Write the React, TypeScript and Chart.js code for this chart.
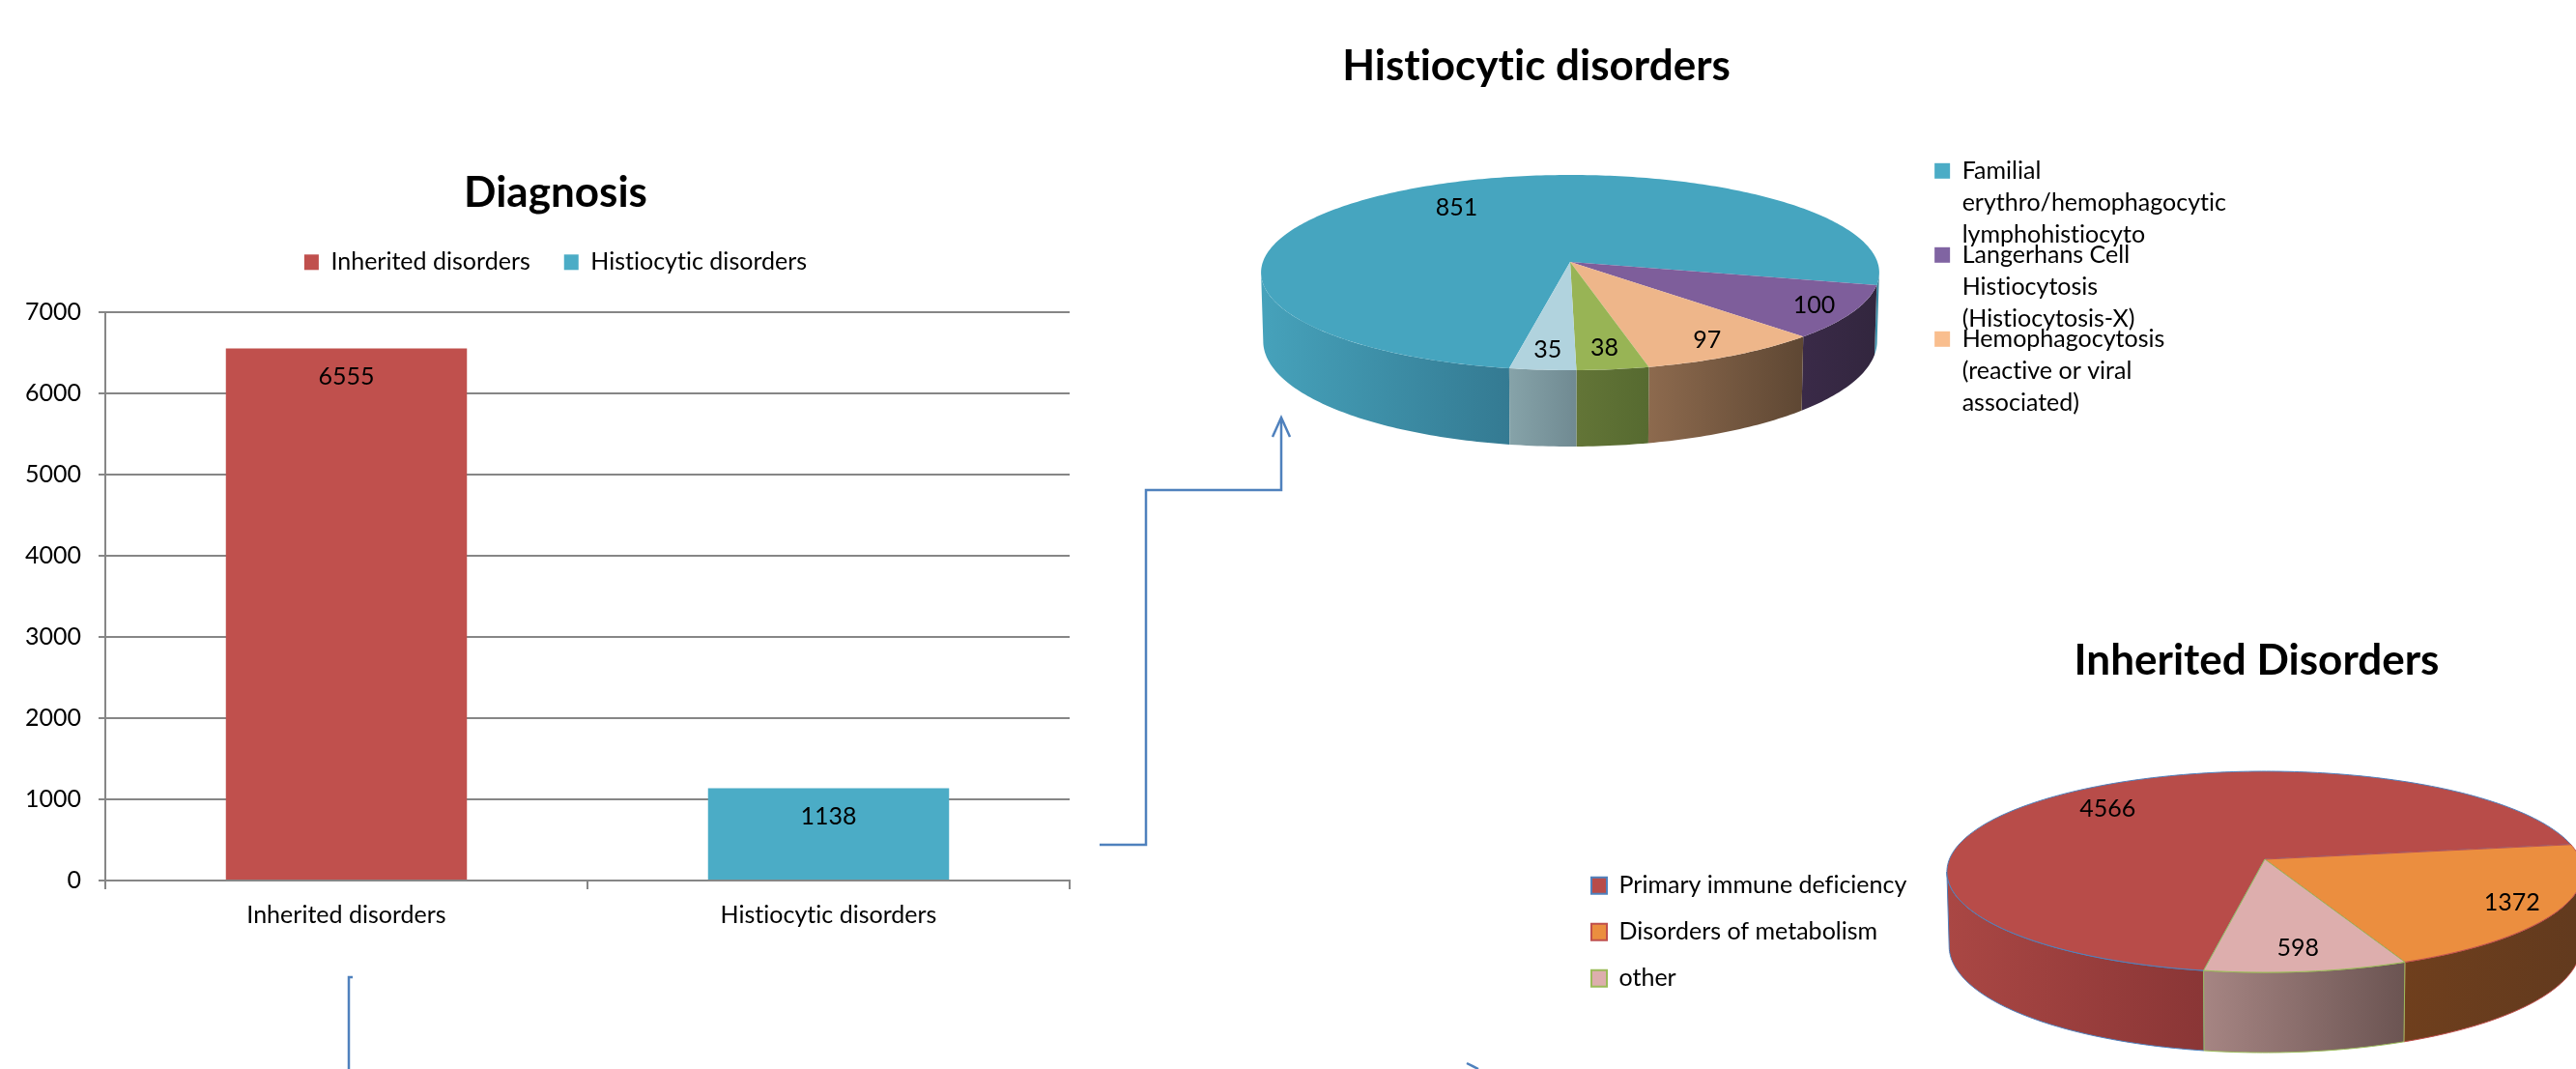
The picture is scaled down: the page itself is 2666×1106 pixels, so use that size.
import React, { useEffect, useRef } from "react";
import { Chart, registerables, ArcElement, PieController } from "chart.js";

Chart.register(...registerables);

const FONT = "Lato, 'Open Sans', sans-serif";

const diagnosisLabels = ["Inherited disorders", "Histiocytic disorders"];
const diagnosisValues = [6555, 1138];
const diagnosisColors = ["#C0504D", "#4BACC6"];

const histiocyticLabels = [
  ["Familial", "erythro/hemophagocytic", "lymphohistiocyto"],
  ["Langerhans Cell", "Histiocytosis", "(Histiocytosis-X)"],
  ["Hemophagocytosis", "(reactive or viral", "associated)"],
];
const histiocyticValues = [851, 100, 97, 38, 35];
const histiocyticTop = ["#46A5BF", "#7E5E9B", "#EEB68A", "#98B455", "#B1D3DE"];
const histiocyticLegendColors = ["#4BACC6", "#8064A2", "#F9BE8E"];

const inheritedLabels = ["Primary immune deficiency", "Disorders of metabolism", "other"];
const inheritedValues = [4566, 1372, 598];
const inheritedTop = ["#B84C49", "#EB8E3F", "#DDAEAD"];
const inheritedBorders = ["#4F81BD", "#C0504D", "#9BBB59"];

type Pie3D = {
  cx: number; cy: number; rx: number; ry: number; p: number;
  d0: number; d1: number; shrink: number;
  walls: [string, string][]; labelR: number[]; borders?: string[];
};

const proj = (c: Pie3D, a: number, r = 1, wall = false) => {
  const u = Math.cos(a) * r, v = Math.sin(a) * r;
  const w = 1 - c.p * v;
  const s = wall ? c.shrink : 1;
  return {
    x: c.cx + (c.rx * u * s) / w,
    y: c.cy + (c.ry * v) / w + (wall ? c.d0 + c.d1 * v : 0),
  };
};

class Arc3DElement extends ArcElement {
  static id = "arc3d";
  draw(ctx: CanvasRenderingContext2D) {
    const c = (this as any).$pie as Pie3D;
    const { startAngle, endAngle } = this as any;
    const idx = (this as any).$idx as number;
    const o = (this as any).options;
    const steps = Math.max(8, Math.ceil((endAngle - startAngle) * 60));
    ctx.save();
    ctx.beginPath();
    const a0 = proj(c, startAngle, 0);
    ctx.moveTo(a0.x, a0.y);
    for (let i = 0; i <= steps; i++) {
      const p = proj(c, startAngle + ((endAngle - startAngle) * i) / steps);
      ctx.lineTo(p.x, p.y);
    }
    ctx.closePath();
    ctx.fillStyle = o.backgroundColor;
    ctx.fill();
    if (c.borders) {
      ctx.strokeStyle = c.borders[idx];
      ctx.lineWidth = 1;
      ctx.stroke();
    }
    ctx.restore();
  }
}

class Pie3DController extends PieController {
  static id = "pie3d";
  static defaults = { ...PieController.defaults, dataElementType: "arc3d" };
  draw() {
    const c = (this.chart.options.plugins as any).pie3d as Pie3D;
    (this as any)._cachedMeta.data.forEach((el: any, i: number) => {
      el.$pie = c;
      el.$idx = i;
    });
    super.draw();
  }
}
Chart.register(Arc3DElement as any, Pie3DController as any);
Chart.register({
  id: "textTweaks",
  beforeLayout(chart: Chart) { (chart.ctx as any).letterSpacing = "0.01px"; },
  afterLayout(chart: Chart) {
    // the overlapping legend rows need a negative padding, which the legend's own clip would cut off
    const legend = (chart as any).legend;
    if (legend) legend.draw = function () { if (this.options.display) this._draw(); };
  },
  beforeDraw(chart: Chart) { (chart.ctx as any).letterSpacing = "0.01px"; },
} as any);

const pie3dPlugin = {
  id: "pie3d",
  beforeDatasetsDraw(chart: Chart) {
    const c = (chart.options.plugins as any).pie3d as Pie3D;
    if (!c) return;
    const ctx = chart.ctx;
    const meta = chart.getDatasetMeta(0);
    meta.data.forEach((el: any, i: number) => {
      const lo = Math.asin(c.p), hi = Math.PI - lo;
      const TAU = Math.PI * 2;
      for (const k of [-1, 0, 1]) {
        const s = Math.max(el.startAngle + k * TAU, lo);
        const e = Math.min(el.endAngle + k * TAU, hi);
        if (e <= s) continue;
        const n = Math.max(8, Math.ceil((e - s) * 60));
        const pts: { x: number; y: number }[] = [];
        const low: { x: number; y: number }[] = [];
        for (let j = 0; j <= n; j++) {
          const a = s + ((e - s) * j) / n;
          pts.push(proj(c, a));
          low.push(proj(c, a, 1, true));
        }
        const xs = pts.concat(low).map((q) => q.x);
        const g = ctx.createLinearGradient(Math.min(...xs), 0, Math.max(...xs), 0);
        g.addColorStop(0, c.walls[i][0]);
        g.addColorStop(1, c.walls[i][1]);
        ctx.beginPath();
        pts.forEach((q, j) => (j ? ctx.lineTo(q.x, q.y) : ctx.moveTo(q.x, q.y)));
        low.reverse().forEach((q) => ctx.lineTo(q.x, q.y));
        ctx.closePath();
        ctx.fillStyle = g;
        ctx.fill();
        if (c.borders) {
          ctx.strokeStyle = c.borders[i];
          ctx.lineWidth = 1;
          ctx.stroke();
        }
      }
    });
  },
  afterDatasetsDraw(chart: Chart) {
    const c = (chart.options.plugins as any).pie3d as Pie3D;
    if (!c) return;
    const ctx = chart.ctx;
    const meta = chart.getDatasetMeta(0);
    const values = chart.data.datasets[0].data as number[];
    ctx.save();
    ctx.font = `25px ${FONT}`;
    ctx.fillStyle = "#000";
    ctx.textAlign = "center";
    ctx.textBaseline = "middle";
    meta.data.forEach((el: any, i: number) => {
      const p = proj(c, (el.startAngle + el.endAngle) / 2, c.labelR[i]);
      ctx.fillText(String(values[i]), p.x, p.y);
    });
    ctx.restore();
  },
};

const barLabelPlugin = {
  id: "barLabels",
  afterDatasetsDraw(chart: Chart) {
    const ctx = chart.ctx;
    const meta = chart.getDatasetMeta(0);
    const values = chart.data.datasets[0].data as number[];
    ctx.save();
    ctx.font = `25px ${FONT}`;
    ctx.fillStyle = "#000";
    ctx.textAlign = "center";
    ctx.textBaseline = "middle";
    meta.data.forEach((el: any, i: number) => ctx.fillText(String(values[i]), el.x, el.y + 30));
    ctx.restore();
  },
};

const box = (left: number, top: number, width: number, height: number): React.CSSProperties => ({
  position: "absolute", left, top, width, height,
});

export default function App() {
  const barRef = useRef<HTMLCanvasElement>(null);
  const histRef = useRef<HTMLCanvasElement>(null);
  const inhRef = useRef<HTMLCanvasElement>(null);

  useEffect(() => {
    const gridColor = "#868686";
    const bar = new Chart(barRef.current!, {
      type: "bar",
      data: {
        labels: diagnosisLabels,
        datasets: [{ data: diagnosisValues, backgroundColor: diagnosisColors, barPercentage: 0.5, categoryPercentage: 1 }],
      },
      plugins: [barLabelPlugin],
      options: {
        animation: false, responsive: false,
        layout: { padding: { left: 20, right: 20, bottom: 40, top: 0 } },
        scales: {
          x: {
            grid: { drawOnChartArea: false, color: gridColor, lineWidth: 2, tickLength: 9 },
            border: { color: gridColor, width: 2 },
            ticks: { color: "#000", font: { size: 25, family: FONT }, padding: 12, maxRotation: 0 },
          },
          y: {
            min: 0, max: 7000,
            afterFit: (s: any) => {
              s.width = 66;
              // labels sit partly in the layout padding, so the scale must not clip them to its box
              s._computeLabelArea = () => undefined;
            },
            grid: { color: gridColor, lineWidth: 2, tickLength: 7 },
            border: { color: gridColor, width: 2 },
            ticks: { color: "#000", font: { size: 25, family: FONT }, stepSize: 1000, padding: 18, callback: (v: number) => String(v) },
          },
        },
        plugins: {
          title: { display: true, text: "Diagnosis", color: "#000", font: { size: 44, family: FONT, weight: "bold" }, padding: { top: 0, bottom: -2 } },
          subtitle: { display: true, text: "", weight: 500, font: { size: 1 }, padding: { top: 0, bottom: 28 } },
          tooltip: { enabled: false },
          legend: {
            position: "top",
            labels: {
              boxWidth: 15, boxHeight: 16, color: "#000", font: { size: 25, family: FONT }, padding: 35,
              generateLabels: () => diagnosisLabels.map((t, i) => ({ text: t, fillStyle: diagnosisColors[i], strokeStyle: diagnosisColors[i], lineWidth: 0, index: i, hidden: false, fontColor: "#000" })),
            },
          },
        },
      },
    } as any);

    const hist = new Chart(histRef.current!, {
      type: "pie3d" as any,
      data: {
        labels: ["Familial", "Langerhans Cell", "Hemophagocytosis", "d", "e"],
        datasets: [{ data: histiocyticValues, backgroundColor: histiocyticTop, radius: 320 }],
      },
      plugins: [pie3dPlugin],
      options: {
        animation: false, responsive: false, rotation: 190.2,
        plugins: {
          pie3d: {
            cx: 1625 - 866, cy: 271, rx: 318, ry: 99.8, p: 0.109, d0: 70, d1: 9, shrink: 0.993,
            labelR: [0.72, 0.87, 0.85, 0.82, 0.83],
            walls: [["#46A2BB", "#347A92"], ["#3A2A48", "#32263E"], ["#8D6A4E", "#5E4733"], ["#637537", "#566A30"], ["#86A3A9", "#708A92"]],
          },
          title: { display: true, text: "Histiocytic disorders", color: "#000", font: { size: 44, family: FONT, weight: "bold" }, padding: { top: 42, bottom: 81.5 } },
          tooltip: { enabled: false },
          legend: {
            position: "right",
            align: "start",
            fullSize: false,
            labels: {
              boxWidth: 16, boxHeight: 16, color: "#000", font: { size: 25, family: FONT, lineHeight: 33 / 25 } as any, padding: -12,
              generateLabels: () => histiocyticLabels.map((t, i) => ({ text: t, fillStyle: histiocyticLegendColors[i], strokeStyle: histiocyticLegendColors[i], lineWidth: 0, index: i, hidden: false, fontColor: "#000" })),
            },
          },
        },
      },
    } as any);

    const inh = new Chart(inhRef.current!, {
      type: "pie3d" as any,
      data: {
        labels: inheritedLabels,
        datasets: [{ data: inheritedValues, backgroundColor: inheritedTop, radius: 320 }],
      },
      plugins: [pie3dPlugin],
      options: {
        animation: false, responsive: false, rotation: 189.8,
        plugins: {
          pie3d: {
            cx: 2344 - 1624, cy: 889 - 640, rx: 326.5, ry: 102.4, p: 0.125, d0: 76, d1: 7, shrink: 0.993,
            labelR: [0.76, 0.85, 0.81],
            borders: inheritedBorders,
            walls: [["#AA4744", "#8A3636"], ["#6F3F1D", "#623A1E"], ["#A68583", "#6B5452"]],
          },
          title: { display: true, text: "Inherited Disorders", color: "#000", font: { size: 44, family: FONT, weight: "bold" }, padding: { top: 17, bottom: 171 } },
          tooltip: { enabled: false },
          legend: {
            position: "left",
            align: "start",
            fullSize: false,
            labels: {
              boxWidth: 16, boxHeight: 17, color: "#000", font: { size: 25, family: FONT }, padding: 23,
              generateLabels: () => inheritedLabels.map((t, i) => ({ text: t, fillStyle: inheritedTop[i], strokeStyle: inheritedBorders[i], lineWidth: 2, index: i, hidden: false, fontColor: "#000" })),
            },
          },
        },
      },
    } as any);

    return () => { bar.destroy(); hist.destroy(); inh.destroy(); };
  }, []);

  return (
    <div style={{ ...box(0, 0, 2666, 1106), overflow: "hidden", background: "#fff" }}>
      <canvas ref={barRef} width={1104} height={841} style={box(23, 173, 1104, 841)} />
      <canvas ref={histRef} width={1448} height={500} style={box(866, 0, 1448, 500)} />
      <canvas ref={inhRef} width={1423} height={466} style={box(1624, 640, 1423, 466)} />
      <svg width={2666} height={1106} style={box(0, 0, 2666, 1106)} fill="none" stroke="#4F81BD" strokeWidth={2.5}>
        <path d="M1138 874 H1186 V507 H1326 V434" />
        <path d="M1317 452 L1326 432 L1335 452" />
        <path d="M365 1011 H361 V1106" />
        <path d="M1518 1100 L1530 1106" />
      </svg>
    </div>
  );
}
